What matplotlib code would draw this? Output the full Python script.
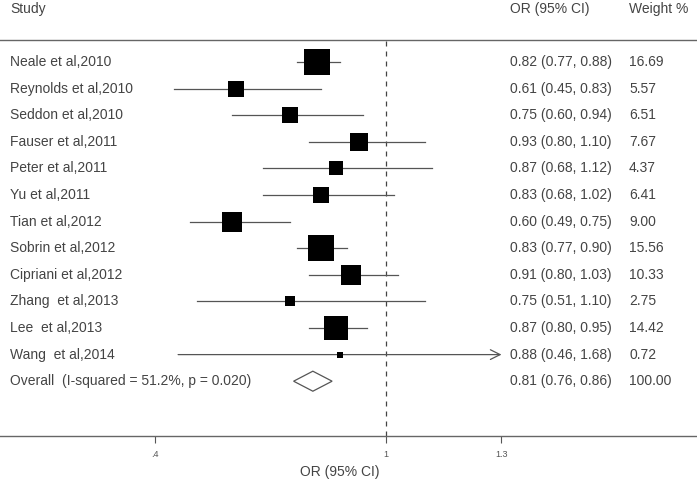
import matplotlib
matplotlib.use("Agg")
import matplotlib.pyplot as plt
from matplotlib.transforms import blended_transform_factory
from matplotlib.patches import Polygon

plt.rcParams['font.family'] = ['Liberation Sans', 'DejaVu Sans']

studies = ["Neale et al,2010", "Reynolds et al,2010", "Seddon et al,2010",
           "Fauser et al,2011", "Peter et al,2011", "Yu et al,2011",
           "Tian et al,2012", "Sobrin et al,2012", "Cipriani et al,2012",
           "Zhang  et al,2013", "Lee  et al,2013", "Wang  et al,2014"]
or_est = [0.82, 0.61, 0.75, 0.93, 0.87, 0.83, 0.60, 0.83, 0.91, 0.75, 0.87, 0.88]
ci_low = [0.77, 0.45, 0.60, 0.80, 0.68, 0.68, 0.49, 0.77, 0.80, 0.51, 0.80, 0.46]
ci_high = [0.88, 0.83, 0.94, 1.10, 1.12, 1.02, 0.75, 0.90, 1.03, 1.10, 0.95, 1.68]
weights = [16.69, 5.57, 6.51, 7.67, 4.37, 6.41, 9.00, 15.56, 10.33, 2.75, 14.42, 0.72]
overall_label = "Overall  (I-squared = 51.2%, p = 0.020)"
overall = (0.81, 0.76, 0.86)
overall_weight = "100.00"
xticks = [0.4, 1.0, 1.3]
xticklabels = [".4", "1", "1.3"]

W, H = 697, 483
fig = plt.figure(figsize=(W / 100, H / 100), dpi=100)

# axes spans full width; top at px 40, bottom at px 436
ax_top, ax_bot = 40, 436
ax = fig.add_axes([0, 1 - ax_bot / H, 1, (ax_bot - ax_top) / H])
scale = 385.0  # px per OR unit
x_at_1 = 386.0
ax.set_xlim(1 - x_at_1 / scale, 1 + (W - x_at_1) / scale)
row0, dy = 62.0, 26.6
ax.set_ylim((ax_bot - row0) / dy, (ax_top - row0) / dy)

for s in ['left', 'right', 'top']:
    ax.spines[s].set_visible(False)
ax.spines['bottom'].set_color('#666666')
ax.spines['bottom'].set_linewidth(1.0)
ax.set_yticks([])
ax.set_xticks(xticks)
ax.set_xticklabels(xticklabels)
ax.tick_params(axis='x', direction='out', length=5, width=0.8, color='#555555',
               labelsize=6.5, labelcolor='#555555', pad=5)

txtc = '#444444'
fs = 10
xmax_clip = 1.3
x_study, x_or, x_w = 10, 510, 629

# top line
fig.add_artist(plt.Line2D([0, 1], [1 - ax_top / H] * 2, color='#666666', lw=1.0,
                          transform=fig.transFigure))

# dashed null line
ax.axvline(1.0, color='#444444', lw=0.9, ls=(0, (4, 4)))

trans = blended_transform_factory(fig.transFigure, ax.transData)
k = 21.5
for i, (name, e, lo, hi, w) in enumerate(zip(studies, or_est, ci_low, ci_high, weights)):
    if hi > xmax_clip:
        ax.annotate("", xy=(xmax_clip, i), xytext=(lo, i),
                    arrowprops=dict(arrowstyle='->,head_length=0.7,head_width=0.35',
                                    color='#555555', lw=0.9, shrinkA=0, shrinkB=0))
    else:
        ax.plot([lo, hi], [i, i], color='#555555', lw=0.9, zorder=2)
    ax.scatter([e], [i], marker='s', s=w * k, color='black', zorder=3, linewidths=0)
    ax.text(x_study / W, i, name, transform=trans, fontsize=fs, color=txtc, va='center', ha='left')
    ax.text(x_or / W, i, f"{e:.2f} ({lo:.2f}, {hi:.2f})", transform=trans, fontsize=fs,
            color=txtc, va='center', ha='left')
    ax.text(x_w / W, i, f"{w:.2f}", transform=trans, fontsize=fs, color=txtc,
            va='center', ha='left')

# overall diamond
yo = len(studies)
e, lo, hi = overall
hh = 10 / dy
diamond = Polygon([[lo, yo], [e, yo - hh], [hi, yo], [e, yo + hh]], closed=True,
                  facecolor='white', edgecolor='#555555', lw=0.9, zorder=3)
ax.add_patch(diamond)
ax.text(x_study / W, yo, overall_label, transform=trans, fontsize=fs, color=txtc, va='center', ha='left')
ax.text(x_or / W, yo, f"{e:.2f} ({lo:.2f}, {hi:.2f})", transform=trans, fontsize=fs,
        color=txtc, va='center', ha='left')
ax.text(x_w / W, yo, overall_weight, transform=trans, fontsize=fs, color=txtc,
        va='center', ha='left')

# headers
fig.text(x_study / W, 1 - 9 / H, "Study", fontsize=fs, color=txtc, va='center', ha='left')
fig.text(x_or / W, 1 - 9 / H, "OR (95% CI)", fontsize=fs, color=txtc, va='center', ha='left')
fig.text(x_w / W, 1 - 9 / H, "Weight %", fontsize=fs, color=txtc, va='center', ha='left')

# x label
fig.text(340 / W, 1 - 472 / H, "OR (95% CI)", fontsize=fs, color=txtc, va='center', ha='center')

fig.savefig("out.png", dpi=100, facecolor='white')
